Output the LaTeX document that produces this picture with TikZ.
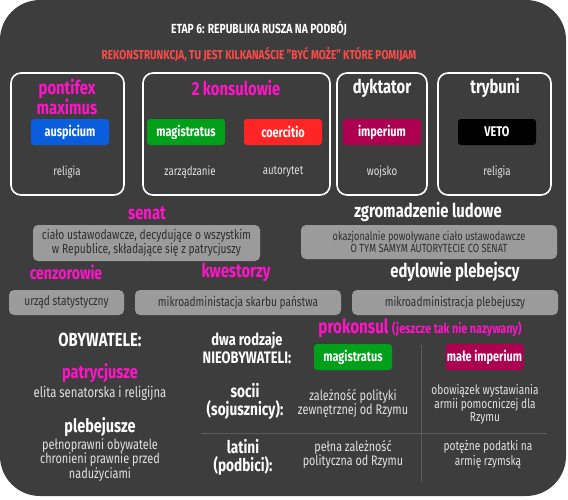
\documentclass[tikz,border=0pt]{standalone}
\usepackage{fontspec}
\setmainfont{Fira Sans}[FakeStretch=0.78]
\usepackage{tikz}
\definecolor{bgdark}{HTML}{3D3D3D}
\definecolor{hotpink}{HTML}{FF14C8}
\definecolor{subred}{HTML}{FF4A4A}
\definecolor{boxgray}{HTML}{9B9B9B}
\definecolor{textdark}{HTML}{2E2E2E}
\definecolor{desctext}{HTML}{E2E2E2}
\definecolor{pillblue}{HTML}{0A5EDE}
\definecolor{pillgreen}{HTML}{01A01B}
\definecolor{pillred}{HTML}{FF2525}
\definecolor{pillcrimson}{HTML}{AE0050}
\definecolor{divider}{HTML}{5C5C5C}
\newcommand{\fs}[2]{\fontsize{#1}{#2}\selectfont}

\begin{document}
\begin{tikzpicture}[x=1pt,y=-1pt,
  frame/.style={draw=white,line width=1.6pt,rounded corners=10pt},
  pill/.style={rounded corners=3pt,minimum width=78,minimum height=26,inner sep=0pt,text=white,font=\bfseries\fs{14}{15}},
  hottitle/.style={text=hotpink,align=center,font=\bfseries\fs{19}{18}},
  whitetitle/.style={text=white,align=center,font=\bfseries\fs{19}{18}},
  desc/.style={text=desctext,align=center,font=\fs{12.4}{13}},
  graybox/.style={fill=boxgray,rounded corners=5pt,inner sep=0pt,text=textdark,align=center,font=\fs{13}{13}}]
\useasboundingbox (0,0) rectangle (568,499);
\fill[bgdark,rounded corners=40pt] (0,0) rectangle (566,496);

% header
\node[text=white,font=\bfseries\fs{13.2}{14}] (title) at (259,28) {ETAP 6: REPUBLIKA RUSZA NA PODBÓJ};
\node[text=subred,font=\bfseries\fs{12.9}{14}] (subtitle) at (259,54) {REKONSTRUNKCJA, TU JEST KILKANAŚCIE "BYĆ MOŻE" KTÓRE POMIJAM};

% urzedy
\node[frame,minimum width=113,minimum height=122] (pontbox) at (67.5,134) {};
\node[frame,minimum width=187,minimum height=122] (konsbox) at (236.5,134) {};
\node[frame,minimum width=90,minimum height=122] (dyktbox) at (382,134) {};
\node[frame,minimum width=113,minimum height=122] (trybbox) at (494.5,134) {};

\node[hottitle] (pontifex) at (67,97) {pontifex\\maximus};
\node[hottitle] (konsulowie) at (236,88) {2 konsulowie};
\node[whitetitle] (dyktator) at (382,88) {dyktator};
\node[whitetitle] (trybuni) at (495,88) {trybuni};

\node[pill,fill=pillblue] (auspicium) at (70,132) {auspicium};
\node[pill,fill=pillgreen] (magistratus) at (186,132) {magistratus};
\node[pill,fill=pillred] (coercitio) at (283,132) {coercitio};
\node[pill,fill=pillcrimson] (imperium) at (382,132) {imperium};
\node[pill,fill=black] (veto) at (497,132) {VETO};

\node[desc] (religia-a) at (67,172) {religia};
\node[desc] (zarzadzanie) at (190,172) {zarządzanie};
\node[desc] (autorytet) at (283,172) {autorytet};
\node[desc] (wojsko) at (382,172) {wojsko};
\node[desc] (religia-b) at (497,172) {religia};

% ciala ustawodawcze
\node[hottitle] (senat) at (147,213) {senat};
\node[graybox,font=\fs{13.2}{13.5},minimum width=227,minimum height=36] (senat-box) at (146.5,243) {ciało ustawodawcze, decydujące o wszystkim\\w Republice, składające się z patrycjuszy};
\node[whitetitle] (zgromadzenie) at (428,212) {zgromadzenie ludowe};
\node[graybox,font=\fs{11.8}{12},minimum width=256,minimum height=34] (zgrom-box) at (429,242) {okazjonalnie powoływane ciało ustawodawcze\\O TYM SAMYM AUTORYTECIE CO SENAT};

% nizsze urzedy
\node[hottitle,font=\bfseries\fs{18}{18}] (cenzorowie) at (66,272) {cenzorowie};
\node[hottitle] (kwestorzy) at (236,272) {kwestorzy};
\node[whitetitle] (edylowie) at (455,272) {edylowie plebejscy};
\node[graybox,minimum width=115,minimum height=25] (cenz-box) at (66.5,302.5) {urząd statystyczny};
\node[graybox,minimum width=206,minimum height=25] (kwest-box) at (238,302.5) {mikroadministacja skarbu państwa};
\node[graybox,minimum width=206,minimum height=25] (edyl-box) at (455,302.5) {mikroadministracja plebejuszy};

% obywatele
\node[whitetitle,font=\bfseries\fs{19}{18}] (obywatele) at (100,340) {OBYWATELE:};
\node[hottitle,font=\bfseries\fs{18.5}{18}] (patrycjusze) at (100,373) {patrycjusze};
\node[desc,font=\fs{14.5}{14}] (patr-desc) at (100,393) {elita senatorska i religijna};
\node[whitetitle,font=\bfseries\fs{18.5}{18}] (plebejusze) at (100,427) {plebejusze};
\node[desc,font=\fs{14}{13.5}] (pleb-desc) at (100,460) {pełnoprawni obywatele\\chronieni prawnie przed\\nadużyciami};

% nieobywatele
\node[whitetitle,font=\bfseries\fs{16.6}{18}] (nieobywatele) at (247,348) {dwa rodzaje\\NIEOBYWATELI:};
\node[text=hotpink,font=\bfseries\fs{19.5}{18}] (prokonsul) at (420,328) {prokonsul {\fs{13.8}{14}(jeszcze tak nie nazywany)}};
\node[pill,fill=pillgreen] (prok-magistratus) at (353,357) {magistratus};
\node[pill,fill=pillcrimson] (prok-imperium) at (484.5,357) {małe imperium};

\draw[divider,line width=1pt] (421,345) -- (421,482);
\draw[divider,line width=1pt] (201,433) -- (547,433);

\node[whitetitle,font=\bfseries\fs{17.5}{18}] (socii) at (245,401) {socii\\(sojusznicy):};
\node[desc,font=\fs{14}{13}] (socii-a) at (353,403.5) {zależność polityki\\zewnętrznej od Rzymu};
\node[desc,font=\fs{13}{13}] (socii-b) at (485,404) {obowiązek wystawiania\\armii pomocniczej dla\\Rzymu};
\node[whitetitle,font=\bfseries\fs{17.5}{18}] (latini) at (243,457.5) {latini\\(podbici):};
\node[desc,font=\fs{13.8}{13}] (latini-a) at (353,454.5) {pełna zależność\\polityczna od Rzymu};
\node[desc,font=\fs{13}{13}] (latini-b) at (488,454.5) {potężne podatki na\\armię rzymską};
\end{tikzpicture}
\end{document}
